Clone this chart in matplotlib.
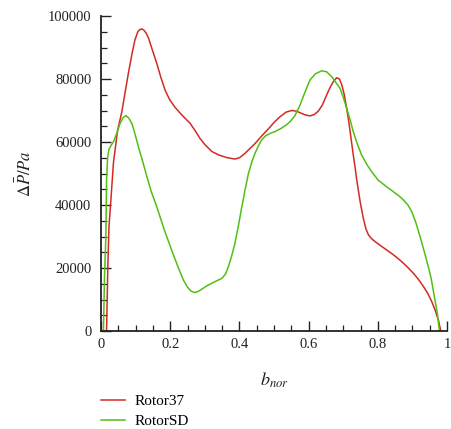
import matplotlib.pyplot as plt
from matplotlib.ticker import MultipleLocator

plt.rcParams['font.family'] = 'Liberation Serif'
plt.rcParams['mathtext.fontset'] = 'stix'

# Rotor37 pressure difference along normalized blade height
b_r37 = [0.016, 0.020, 0.023, 0.030, 0.036, 0.048, 0.060, 0.070, 0.079, 0.090,
         0.098, 0.106, 0.112, 0.118, 0.124, 0.130, 0.137, 0.149, 0.161, 0.173,
         0.185, 0.199, 0.214, 0.230, 0.245, 0.257, 0.272, 0.285, 0.300, 0.320,
         0.340, 0.365, 0.387, 0.400, 0.415, 0.430, 0.445, 0.465, 0.484, 0.500,
         0.517, 0.535, 0.551, 0.565, 0.575, 0.590, 0.604, 0.616, 0.628, 0.640,
         0.652, 0.662, 0.671, 0.681, 0.689, 0.696, 0.703, 0.710, 0.715, 0.720,
         0.729, 0.734, 0.739, 0.749, 0.758, 0.766, 0.773, 0.782, 0.792, 0.808,
         0.826, 0.845, 0.864, 0.883, 0.903, 0.918, 0.932, 0.945, 0.956, 0.966,
         0.975, 0.982]
dp_r37 = [0, 22000, 33000, 44000, 53500, 63800, 69500, 76000, 81800, 88300,
          92400, 94900, 95700, 95900, 95500, 94600, 93100, 89000, 85000, 80500,
          76500, 73300, 71000, 69000, 67300, 66000, 63600, 61300, 59200, 57000,
          55900, 55000, 54600, 55000, 56300, 57900, 59500, 62000, 64200, 66200,
          68000, 69500, 70000, 69800, 69300, 68600, 68300, 68700, 69800, 71800,
          74900, 77300, 79100, 80400, 80000, 78100, 75000, 70700, 67200, 63300,
          55900, 52200, 48000, 41000, 35800, 32300, 30500, 29300, 28400, 27100,
          25700, 24200, 22500, 20600, 18300, 16300, 14100, 11800, 9300, 6500,
          3500, 0]

# RotorSD pressure difference along normalized blade height
b_sd = [0.007, 0.010, 0.014, 0.016, 0.019, 0.023, 0.029, 0.036, 0.045, 0.055,
        0.064, 0.072, 0.080, 0.089, 0.096, 0.103, 0.110, 0.118, 0.132, 0.146,
        0.161, 0.182, 0.204, 0.222, 0.238, 0.250, 0.260, 0.270, 0.280, 0.290,
        0.310, 0.330, 0.349, 0.360, 0.368, 0.377, 0.387, 0.397, 0.407, 0.417,
        0.426, 0.436, 0.445, 0.455, 0.464, 0.475, 0.490, 0.503, 0.520, 0.535,
        0.546, 0.560, 0.575, 0.590, 0.604, 0.620, 0.638, 0.652, 0.667, 0.680,
        0.691, 0.700, 0.710, 0.720, 0.729, 0.741, 0.753, 0.767, 0.782, 0.801,
        0.823, 0.845, 0.860, 0.874, 0.887, 0.898, 0.910, 0.922, 0.934, 0.946,
        0.954, 0.960, 0.966, 0.972, 0.978]
dp_sd = [0, 17000, 30000, 48000, 55000, 57700, 58900, 60100, 62600, 65900,
         67800, 68400, 67600, 65900, 63400, 60600, 57700, 54800, 49200, 44000,
         39500, 32400, 25700, 20500, 16200, 13900, 12700, 12200, 12500, 13200,
         14600, 15700, 16700, 18100, 20400, 23600, 27800, 33400, 39500, 45200,
         50000, 53700, 56400, 58800, 60600, 61900, 62800, 63300, 64300, 65400,
         66400, 68300, 71700, 76000, 79700, 81700, 82600, 82300, 80700, 78700,
         77000, 74200, 70700, 67000, 63300, 59300, 55900, 53100, 50600, 47900,
         46000, 44200, 43000, 41600, 40000, 37900, 34400, 30000, 25300, 20400,
         16800, 13000, 9300, 5600, 0]

fig = plt.figure(figsize=(4.52, 4.29), dpi=100)
ax = fig.add_axes([0.2235, 0.2284, 0.7655, 0.7343])

ax.plot(b_r37, dp_r37, color='#d42a25', lw=1.1, label='Rotor37')
ax.plot(b_sd, dp_sd, color='#52bf12', lw=1.1, label='RotorSD')

ax.set_xlim(0, 1)
ax.set_ylim(0, 100000)
ax.xaxis.set_major_locator(MultipleLocator(0.2))
ax.xaxis.set_minor_locator(MultipleLocator(0.05))
ax.yaxis.set_major_locator(MultipleLocator(20000))
ax.yaxis.set_minor_locator(MultipleLocator(5000))
ax.set_xticks([0, 0.2, 0.4, 0.6, 0.8, 1.0], ['0', '0.2', '0.4', '0.6', '0.8', '1'])
ax.tick_params(which='major', direction='in', length=7, width=1.0,
               labelsize=10.5, color='#222222', labelcolor='#222222')
ax.tick_params(which='minor', direction='in', length=4, width=0.9, color='#222222')
ax.tick_params(axis='y', pad=7)
ax.tick_params(axis='x', pad=5)

for side in ['top', 'right']:
    ax.spines[side].set_visible(False)
for side in ['left', 'bottom']:
    ax.spines[side].set_linewidth(1.3)
    ax.spines[side].set_color('#222222')

ax.set_ylabel(r'$\mathit{\Delta}\bar{P}/Pa$', fontsize=12, color='#222222', labelpad=9)
ax.set_xlabel(r'$b_{nor}$', fontsize=13, color='#222222', labelpad=14)

fig.legend(loc='upper left', bbox_to_anchor=(0.211, 0.095),
           frameon=False, fontsize=11, handlelength=1.55, handletextpad=0.6,
           labelspacing=0.4, borderaxespad=0)

fig.savefig('out.png', dpi=100)
